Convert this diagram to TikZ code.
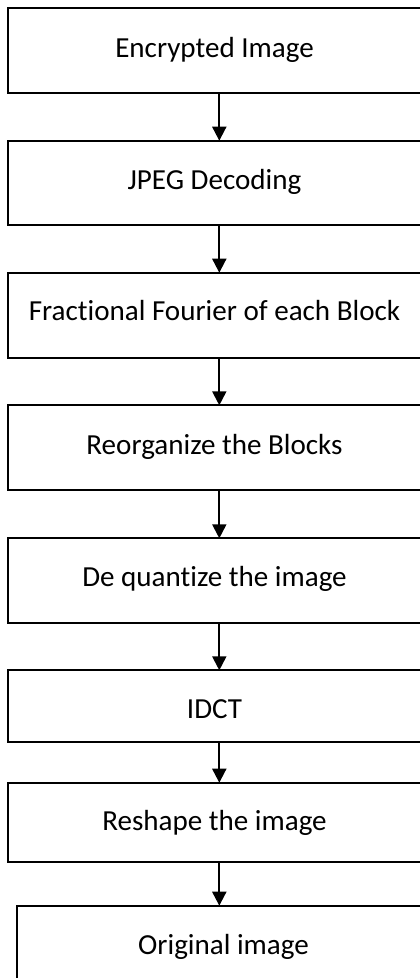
\documentclass[tikz,border=0pt]{standalone}
\usepackage{fontspec}
\setmainfont{Carlito}[Ligatures={NoCommon,NoRare,NoContextual}]
\usetikzlibrary{arrows.meta}
\begin{document}
\begin{tikzpicture}[x=0.75pt,y=-0.75pt,
  box/.style={draw=black,line width=1.5pt,rectangle,inner sep=0pt,outer sep=0pt,
    minimum width=412.4*0.75pt},
  lbl/.style={anchor=base,inner sep=0pt,font=\fontsize{21.8}{26}\selectfont},
  flow/.style={draw=black,line width=1.5pt,-{Triangle[width=10.5pt,length=10.5pt]}}]
\clip (0,0) rectangle (420,978);
\useasboundingbox (0,0) rectangle (420,978);
\node[box,minimum height=84.4*0.75pt] (b1) at (214.5,50.5) {};
\node[box,minimum height=84.6*0.75pt] (b2) at (214.5,183) {};
\node[box,minimum height=85*0.75pt] (b3) at (214.5,315.2) {};
\node[box,minimum height=84.7*0.75pt] (b4) at (214.5,447.65) {};
\node[box,minimum height=84.4*0.75pt] (b5) at (214.5,580.5) {};
\node[box,minimum height=72*0.75pt] (b6) at (214.5,706.3) {};
\node[box,minimum height=79*0.75pt] (b7) at (214.5,822.2) {};
\node[box,minimum height=84.3*0.75pt] (b8) at (223.5,947.85) {};
\node[lbl] (t1) at (214.5,57.3) {Encrypted Image};
\node[lbl] (t2) at (214.5,189.3) {JPEG Decoding};
\node[lbl] (t3) at (214.5,320.7) {Fractional Fourier of each Block};
\node[lbl] (t4) at (214.5,454.3) {Reorganize the Blocks};
\node[lbl] (t5) at (214.5,586.7) {De quantize the image};
\node[lbl] (t6) at (214.5,718.7) {IDCT};
\node[lbl] (t7) at (214.5,830.7) {Reshape the image};
\node[lbl] (t8) at (223.5,954) {Original image};
\coordinate (ax) at (219.3,0);
\draw[flow] (b1.south -| ax) -- (b2.north -| ax);
\draw[flow] (b2.south -| ax) -- (b3.north -| ax);
\draw[flow] (b3.south -| ax) -- (b4.north -| ax);
\draw[flow] (b4.south -| ax) -- (b5.north -| ax);
\draw[flow] (b5.south -| ax) -- (b6.north -| ax);
\draw[flow] (b6.south -| ax) -- (b7.north -| ax);
\draw[flow] (b7.south -| ax) -- (b8.north -| ax);
\end{tikzpicture}
\end{document}
